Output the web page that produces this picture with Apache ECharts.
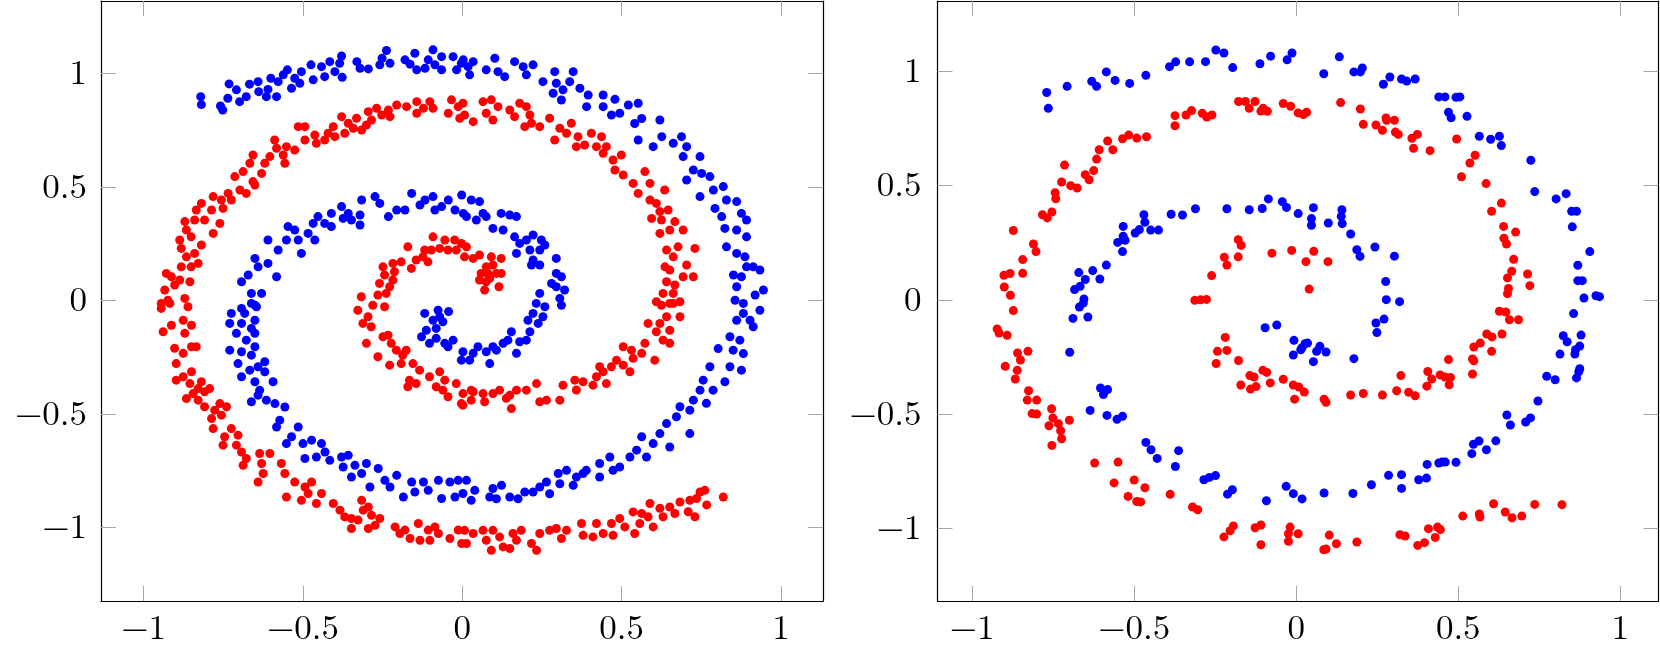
<!DOCTYPE html>
<html>
<head>
<meta charset="utf-8">
<script src="https://cdn.jsdelivr.net/npm/echarts@6.0.0/dist/echarts.min.js"></script>
<style>
  html, body { margin: 0; padding: 0; background: #fff; }
  #chart { width: 1660px; height: 653px; }
</style>
</head>
<body>
<div id="chart"></div>
<script>
// tick positions shared by both panels
const tickValues = [-1, -0.5, 0, 0.5, 1];

// left panel, blue class
const leftBlue = [
  [-0.821,0.897],[-0.819,0.862],[-0.752,0.838],[-0.759,0.856],[-0.736,0.890],[-0.732,0.953],[-0.709,0.927],[-0.699,0.875],
  [-0.678,0.897],[-0.668,0.952],[-0.641,0.963],[-0.639,0.919],[-0.615,0.897],[-0.610,0.929],[-0.601,0.978],[-0.583,0.897],
  [-0.578,0.963],[-0.562,0.993],[-0.549,1.015],[-0.536,0.934],[-0.526,0.978],[-0.505,1.007],[-0.510,0.956],[-0.475,1.037],
  [-0.468,0.971],[-0.442,1.029],[-0.432,0.985],[-0.416,1.051],[-0.400,1.007],[-0.379,1.076],[-0.377,0.982],[-0.385,1.044],
  [-0.331,1.051],[-0.321,1.022],[-0.295,1.019],[-0.259,1.037],[-0.252,1.066],[-0.238,1.100],[-0.227,1.044],[-0.180,1.059],
  [-0.164,1.040],[-0.149,1.088],[-0.143,1.015],[-0.117,1.022],[-0.107,1.059],[-0.092,1.103],[-0.086,1.037],[-0.065,1.073],
  [-0.065,1.015],[-0.029,1.073],[-0.018,1.015],[-0.003,1.044],
  [0.003,1.059],[0.018,1.029],[0.023,0.993],[0.034,1.051],[0.075,1.015],[0.102,1.066],[0.112,1.007],[0.133,0.985],
  [0.164,1.051],[0.191,1.029],[0.201,0.993],[0.222,1.037],[0.253,0.963],[0.290,1.007],[0.295,0.956],[0.285,0.912],
  [0.316,0.927],[0.311,0.882],[0.348,1.007],[0.337,0.963],[0.369,0.934],[0.395,0.904],[0.390,0.853],[0.442,0.904],
  [0.442,0.853],[0.479,0.885],[0.468,0.816],[0.494,0.824],[0.521,0.860],[0.552,0.868],[0.541,0.779],[0.563,0.801],
  [0.552,0.706],[0.599,0.677],[0.620,0.794],[0.626,0.721],[0.662,0.692],[0.688,0.721],[0.704,0.677],[0.693,0.633],
  [0.746,0.633],[0.704,0.530],[0.725,0.574],[0.751,0.559],[0.777,0.545],[0.746,0.457],[0.788,0.486],[0.819,0.501],
  [0.829,0.442],[0.793,0.405],[0.861,0.435],[0.814,0.369],[0.876,0.383],[0.892,0.354],[0.824,0.317],[0.861,0.310],
  [0.829,0.236],[0.892,0.280],[0.861,0.207],[0.887,0.192],[0.892,0.148],[0.913,0.148],[0.851,0.112],[0.876,0.104],
  [0.861,0.060],[0.934,0.134],[0.919,0.024],[0.945,0.046],[0.856,0.001],[0.882,-0.013],
  [0.934,-0.043],[0.913,-0.116],[0.882,-0.057],[0.861,-0.087],[0.903,-0.087],[0.840,-0.160],[0.871,-0.175],
  [0.850,-0.219],[0.882,-0.234],[0.803,-0.212],[0.876,-0.307],[0.840,-0.292],[0.777,-0.292],[0.824,-0.358],[0.787,-0.395],
  [0.756,-0.351],[0.746,-0.395],[0.725,-0.439],[0.766,-0.453],[0.683,-0.468],[0.714,-0.483],[0.672,-0.512],[0.641,-0.542],
  [0.714,-0.586],[0.651,-0.645],[0.620,-0.586],[0.599,-0.630],[0.563,-0.600],[0.547,-0.659],[0.526,-0.689],[0.578,-0.689],
  [0.494,-0.733],[0.463,-0.689],[0.431,-0.718],[0.431,-0.777],[0.473,-0.748],[0.389,-0.748],[0.358,-0.777],[0.327,-0.748],
  [0.301,-0.762],[0.306,-0.807],[0.348,-0.814],[0.379,-0.762],[0.264,-0.799],[0.243,-0.821],[0.274,-0.851],[0.222,-0.843],
  [0.196,-0.843],[0.175,-0.873],[0.149,-0.865],[0.123,-0.814],[0.096,-0.828],[0.107,-0.873],[0.086,-0.865],[0.039,-0.836],
  [0.028,-0.880],[0.013,-0.792],[0.002,-0.850],
  [-0.013,-0.792],[-0.023,-0.865],[-0.039,-0.799],[-0.075,-0.792],[-0.065,-0.872],[-0.107,-0.836],[-0.122,-0.799],
  [-0.149,-0.843],[-0.159,-0.799],[-0.185,-0.865],[-0.206,-0.770],[-0.227,-0.821],[-0.243,-0.792],[-0.264,-0.740],
  [-0.290,-0.821],[-0.301,-0.718],[-0.316,-0.762],[-0.337,-0.726],[-0.348,-0.777],[-0.374,-0.733],[-0.379,-0.689],
  [-0.358,-0.682],[-0.416,-0.704],[-0.431,-0.667],[-0.442,-0.630],[-0.458,-0.689],[-0.473,-0.615],[-0.500,-0.630],
  [-0.494,-0.696],[-0.515,-0.557],[-0.536,-0.600],[-0.552,-0.630],[-0.583,-0.557],[-0.573,-0.527],[-0.588,-0.454],
  [-0.557,-0.469],[-0.615,-0.439],[-0.641,-0.417],[-0.662,-0.446],[-0.636,-0.395],[-0.651,-0.358],[-0.594,-0.358],
  [-0.620,-0.314],[-0.641,-0.292],[-0.693,-0.336],[-0.667,-0.307],[-0.620,-0.270],[-0.704,-0.278],[-0.662,-0.241],
  [-0.693,-0.226],[-0.730,-0.219],[-0.651,-0.204],[-0.678,-0.175],[-0.709,-0.145],[-0.651,-0.145],[-0.730,-0.101],
  [-0.693,-0.101],[-0.662,-0.123],[-0.725,-0.057],[-0.683,-0.057],[-0.651,-0.087],[-0.646,-0.028],[-0.662,-0.013],
  [-0.693,-0.035],[-0.651,-0.021],[-0.662,0.031],[-0.630,0.031],[-0.693,0.082],[-0.672,0.112],[-0.641,0.148],
  [-0.651,0.185],[-0.610,0.163],[-0.583,0.104],[-0.610,0.266],[-0.578,0.222],[-0.547,0.325],[-0.552,0.266],
  [-0.526,0.310],[-0.505,0.207],[-0.515,0.266],[-0.484,0.295],[-0.468,0.339],[-0.453,0.369],[-0.463,0.266],
  [-0.432,0.339],[-0.411,0.325],[-0.411,0.383],[-0.379,0.413],[-0.358,0.383],[-0.374,0.361],[-0.348,0.354],
  [-0.321,0.332],[-0.316,0.442],[-0.321,0.376],[-0.274,0.457],[-0.259,0.427],[-0.232,0.369],[-0.206,0.398],
  [-0.180,0.398],[-0.159,0.471],[-0.133,0.420],[-0.117,0.442],[-0.092,0.457],[-0.086,0.398],[-0.065,0.413],
  [-0.044,0.442],[-0.023,0.398],[-0.002,0.464],[0.003,0.383],
  [0.028,0.442],[0.054,0.435],[0.013,0.369],[0.044,0.354],[0.065,0.383],[0.075,0.369],[0.096,0.317],[0.122,0.383],
  [0.149,0.376],[0.170,0.369],[0.128,0.310],[0.164,0.280],[0.180,0.251],[0.170,0.207],[0.201,0.266],[0.222,0.288],
  [0.212,0.222],[0.248,0.266],[0.259,0.244],[0.243,0.222],[0.222,0.178],[0.243,0.156],[0.217,0.156],[0.295,0.185],
  [0.295,0.119],[0.311,0.104],[0.280,0.075],[0.295,0.060],[0.321,0.046],[0.306,0.009],[0.311,-0.021],[0.243,0.031],
  [0.232,-0.013],[0.259,-0.028],[0.222,-0.057],[0.206,-0.087],[0.253,-0.072],[0.238,-0.101],[0.212,-0.138],
  [0.180,-0.182],[0.201,-0.175],[0.154,-0.138],[0.143,-0.175],[0.170,-0.233],[0.128,-0.189],[0.107,-0.219],
  [0.096,-0.204],[0.075,-0.226],[0.049,-0.204],[0.034,-0.233],[0.002,-0.226],[-0.003,-0.263],[0.023,-0.263],
  [0.086,-0.278],[-0.029,-0.175],[-0.045,-0.204],[-0.055,-0.189],[-0.082,-0.167],[-0.103,-0.189],[-0.128,-0.160],
  [-0.113,-0.131],[-0.082,-0.123],[-0.092,-0.087],[-0.061,-0.094],[-0.118,-0.057],[-0.076,-0.043],[-0.043,-0.049],
  [-0.071,-0.072]
];

// left panel, red class
const leftRed = [
  [-0.945,-0.013],[-0.924,0.001],[-0.934,0.046],[-0.903,0.068],[-0.913,0.104],[-0.887,0.090],[-0.855,0.082],
  [-0.871,0.009],[-0.929,0.119],[-0.882,0.148],[-0.851,0.148],[-0.829,0.163],[-0.866,0.192],[-0.882,0.229],
  [-0.840,0.207],[-0.887,0.266],[-0.866,0.310],[-0.851,0.280],[-0.819,0.244],[-0.871,0.347],[-0.840,0.354],
  [-0.835,0.398],[-0.809,0.354],[-0.819,0.427],[-0.787,0.398],[-0.782,0.457],[-0.761,0.339],[-0.756,0.442],
  [-0.751,0.405],[-0.782,0.295],[-0.735,0.471],[-0.725,0.442],[-0.714,0.545],[-0.698,0.486],[-0.688,0.567],
  [-0.678,0.471],[-0.667,0.604],[-0.657,0.640],[-0.657,0.523],[-0.651,0.508],[-0.630,0.559],[-0.620,0.604],
  [-0.604,0.633],[-0.583,0.670],[-0.589,0.706],[-0.557,0.604],[-0.562,0.640],[-0.552,0.677],[-0.526,0.662],
  [-0.515,0.765],[-0.494,0.765],[-0.494,0.706],[-0.463,0.728],[-0.458,0.692],[-0.432,0.706],[-0.421,0.736],
  [-0.400,0.721],[-0.405,0.765],[-0.379,0.809],[-0.369,0.736],[-0.358,0.780],[-0.342,0.758],[-0.332,0.802],
  [-0.316,0.750],[-0.301,0.772],[-0.295,0.831],[-0.285,0.794],[-0.269,0.846],[-0.253,0.816],[-0.232,0.838],
  [-0.227,0.809],[-0.206,0.860],[-0.175,0.853],[-0.143,0.875],[-0.143,0.824],[-0.122,0.846],[-0.102,0.875],
  [-0.092,0.846],[-0.034,0.883],[-0.044,0.824],[-0.013,0.853],[-0.008,0.802],
  [0.002,0.868],[0.007,0.816],[0.034,0.787],[0.065,0.875],[0.091,0.883],[0.075,0.824],[0.096,0.794],[0.112,0.853],
  [0.149,0.838],[0.180,0.868],[0.164,0.809],[0.201,0.853],[0.212,0.816],[0.196,0.765],[0.217,0.780],[0.243,0.765],
  [0.274,0.802],[0.290,0.706],[0.306,0.758],[0.327,0.736],[0.342,0.780],[0.358,0.677],[0.363,0.721],[0.384,0.684],
  [0.405,0.736],[0.421,0.677],[0.437,0.721],[0.442,0.648],[0.452,0.677],[0.473,0.618],[0.499,0.640],[0.479,0.574],
  [0.505,0.552],[0.536,0.515],[0.573,0.567],[0.552,0.471],[0.589,0.515],[0.589,0.442],[0.609,0.427],[0.635,0.486],
  [0.620,0.391],[0.646,0.398],[0.594,0.361],[0.625,0.354],[0.667,0.347],[0.620,0.295],[0.651,0.310],[0.693,0.310],
  [0.641,0.222],[0.677,0.236],[0.730,0.229],[0.662,0.192],[0.704,0.156],[0.636,0.148],[0.651,0.134],[0.693,0.104],
  [0.725,0.104],[0.641,0.082],[0.667,0.068],[0.630,0.031],[0.662,0.031],[0.609,-0.006],[0.651,-0.013],[0.683,-0.006],
  [0.625,-0.021],[0.662,-0.013],[0.683,-0.072],[0.641,-0.072],[0.583,-0.101],[0.620,-0.101],[0.651,-0.131],
  [0.609,-0.138],[0.630,-0.175],[0.651,-0.189],[0.604,-0.263],[0.573,-0.189],[0.563,-0.233],[0.505,-0.204],
  [0.531,-0.219],[0.536,-0.255],[0.484,-0.263],[0.505,-0.285],[0.526,-0.314],[0.468,-0.292],[0.431,-0.292],
  [0.442,-0.314],[0.421,-0.336],[0.452,-0.366],[0.410,-0.373],[0.379,-0.358],[0.353,-0.351],[0.358,-0.394],
  [0.316,-0.373],[0.306,-0.439],[0.264,-0.439],[0.243,-0.446],[0.233,-0.366],[0.201,-0.395],[0.170,-0.395],
  [0.149,-0.417],[0.154,-0.476],[0.138,-0.431],[0.117,-0.395],[0.096,-0.410],[0.070,-0.446],[0.065,-0.410],
  [0.034,-0.402],[0.028,-0.439],[0.002,-0.410],[0.002,-0.461],
  [-0.019,-0.366],[-0.055,-0.351],[-0.061,-0.395],[-0.045,-0.424],[-0.003,-0.454],[0.028,-0.395],[-0.082,-0.380],
  [-0.071,-0.314],[-0.103,-0.336],[-0.134,-0.307],[-0.145,-0.366],[-0.166,-0.351],[-0.171,-0.380],[-0.155,-0.278],
  [-0.192,-0.278],[-0.187,-0.241],[-0.207,-0.219],[-0.176,-0.219],[-0.223,-0.189],[-0.249,-0.160],[-0.233,-0.153],
  [-0.265,-0.248],[-0.228,-0.285],[-0.301,-0.189],[-0.312,-0.101],[-0.296,-0.072],[-0.286,-0.116],[-0.328,-0.043],
  [-0.317,0.016],[-0.281,-0.021],[-0.244,-0.028],[-0.265,0.024],[-0.239,0.031],[-0.260,0.075],[-0.228,0.060],
  [-0.218,0.090],[-0.244,0.112],[-0.249,0.148],[-0.213,0.126],[-0.218,0.163],[-0.192,0.170],[-0.160,0.141],
  [-0.145,0.178],[-0.171,0.236],[-0.118,0.222],[-0.124,0.192],[-0.108,0.170],[-0.092,0.280],[-0.097,0.222],
  [-0.071,0.229],[-0.055,0.266],[-0.045,0.222],[-0.024,0.266],[-0.019,0.222],[-0.003,0.251],[0.007,0.192],
  [0.013,0.236],[0.034,0.185],[0.054,0.200],[0.091,0.192],[0.122,0.185],[0.096,0.156],[0.075,0.148],[0.107,0.119],
  [0.080,0.119],[0.059,0.119],[0.054,0.090],[0.086,0.097],[0.070,0.046],[0.115,0.060],[0.122,0.119],[0.075,0.082],
  [-0.945,-0.035],[-0.918,-0.013],[-0.861,-0.028],[-0.939,-0.138],[-0.913,-0.109],[-0.876,-0.087],[-0.871,-0.145],
  [-0.850,-0.109],[-0.903,-0.211],[-0.876,-0.233],[-0.850,-0.204],[-0.835,-0.204],[-0.898,-0.278],[-0.898,-0.351],
  [-0.876,-0.336],[-0.850,-0.314],[-0.855,-0.366],[-0.819,-0.358],[-0.829,-0.388],[-0.866,-0.432],[-0.845,-0.410],
  [-0.829,-0.439],[-0.809,-0.402],[-0.793,-0.388],[-0.809,-0.468],[-0.777,-0.483],[-0.761,-0.454],[-0.740,-0.468],
  [-0.787,-0.520],[-0.756,-0.505],[-0.782,-0.564],[-0.725,-0.564],[-0.746,-0.600],[-0.751,-0.637],[-0.704,-0.593],
  [-0.709,-0.637],[-0.693,-0.667],[-0.678,-0.696],[-0.688,-0.726],[-0.636,-0.674],[-0.604,-0.674],[-0.630,-0.718],
  [-0.625,-0.762],[-0.641,-0.799],[-0.568,-0.718],[-0.557,-0.762],[-0.552,-0.865],[-0.526,-0.799],[-0.505,-0.880],
  [-0.494,-0.821],[-0.473,-0.799],[-0.484,-0.850],[-0.442,-0.850],[-0.458,-0.894],[-0.405,-0.894],[-0.384,-0.923],
  [-0.369,-0.953],[-0.348,-1.004],[-0.348,-0.960],[-0.316,-0.880],[-0.311,-0.923],[-0.327,-0.967],[-0.295,-0.909],
  [-0.285,-0.946],[-0.295,-1.004],[-0.259,-0.960],[-0.274,-0.990],[-0.211,-0.997],[-0.196,-1.026],[-0.180,-1.011],
  [-0.164,-1.048],[-0.138,-0.982],[-0.133,-1.056],[-0.107,-1.011],[-0.086,-0.997],[-0.102,-1.056],[-0.075,-1.026],
  [-0.039,-1.048],[-0.013,-1.011],[-0.002,-1.070],
  [0.007,-1.012],[0.013,-1.070],[0.034,-1.026],[0.065,-1.012],[0.075,-1.056],[0.091,-1.100],[0.096,-1.012],
  [0.117,-1.041],[0.128,-1.085],[0.149,-1.092],[0.159,-1.026],[0.185,-1.012],[0.170,-1.056],[0.217,-1.070],
  [0.233,-1.100],[0.243,-1.026],[0.274,-1.012],[0.295,-1.004],[0.327,-1.012],[0.311,-1.048],[0.374,-0.982],
  [0.379,-1.034],[0.410,-1.041],[0.421,-0.982],[0.442,-1.026],[0.473,-1.034],[0.468,-0.982],[0.494,-0.960],
  [0.510,-0.997],[0.536,-0.931],[0.541,-1.026],[0.557,-0.982],[0.563,-0.938],[0.589,-0.894],[0.583,-0.952],
  [0.599,-0.997],[0.620,-0.915],[0.630,-0.952],[0.651,-0.909],[0.667,-0.938],[0.683,-0.887],[0.709,-0.930],
  [0.714,-0.880],[0.735,-0.872],[0.730,-0.952],[0.761,-0.836],[0.767,-0.900],[0.746,-0.843],[0.819,-0.865]
];

// right panel, blue class
const rightBlue = [
  [-0.770,0.906],[-0.765,0.837],[-0.707,0.933],[-0.631,0.955],[-0.616,0.933],[-0.586,0.996],[-0.559,0.959],
  [-0.514,0.946],[-0.464,0.981],[-0.391,1.019],[-0.372,1.040],[-0.329,1.040],[-0.280,1.041],[-0.248,1.092],
  [-0.223,1.079],[-0.196,1.015],[-0.112,1.032],[-0.079,1.065],[-0.028,1.049],[-0.013,1.079],
  [0.133,1.062],[0.085,0.988],[0.178,0.996],[0.204,1.013],[0.198,0.996],[0.269,0.942],[0.289,0.974],[0.325,0.965],
  [0.341,0.956],[0.367,0.965],[0.440,0.887],[0.459,0.887],[0.493,0.885],[0.505,0.887],[0.470,0.820],[0.478,0.796],
  [0.527,0.802],[0.565,0.715],[0.600,0.702],[0.627,0.715],[0.633,0.674],[0.724,0.610],[0.736,0.473],[0.802,0.441],
  [0.833,0.464],[0.850,0.387],[0.865,0.387],[0.852,0.319],[0.906,0.211],[0.869,0.151],[0.869,0.084],[0.883,0.084],
  [0.888,0.008],[0.925,0.018],[0.936,0.014],
  [-0.470,0.372],[-0.467,0.339],[-0.484,0.307],[-0.497,0.292],[-0.449,0.305],[-0.425,0.305],[-0.386,0.374],
  [-0.351,0.371],[-0.311,0.398],[-0.214,0.398],[-0.145,0.394],[-0.105,0.399],[-0.086,0.441],[-0.043,0.429],
  [-0.030,0.404],[0.006,0.377],[0.053,0.403],[0.047,0.355],[0.047,0.326],[0.099,0.336],[0.141,0.394],[0.139,0.365],
  [0.142,0.333],[0.168,0.288],[0.187,0.219],[0.197,0.190],[0.243,0.231],[0.303,0.191],[0.276,0.080],[0.278,0.001],
  [0.319,-0.008],[0.271,-0.084],[0.246,-0.101],[0.249,-0.143],[0.178,-0.257],[0.092,-0.228],[0.073,-0.203],
  [0.063,-0.225],[0.053,-0.270],[0.035,-0.189],[0.027,-0.192],[0.018,-0.209],[0.014,-0.218],[-0.007,-0.177],
  [-0.009,-0.241],[-0.060,-0.110],[-0.096,-0.122],
  [0.856,-0.060],[0.824,-0.157],[0.836,-0.183],[0.879,-0.154],[0.875,-0.202],[0.862,-0.218],[0.860,-0.237],
  [0.814,-0.237],[0.875,-0.301],[0.872,-0.314],[0.865,-0.341],[0.773,-0.334],[0.799,-0.349],[0.746,-0.442],
  [0.650,-0.503],[0.661,-0.547],[0.708,-0.534],[0.723,-0.516],[0.616,-0.616],[0.587,-0.655],[0.564,-0.617],
  [0.547,-0.631],[0.542,-0.672],[0.493,-0.710],[0.460,-0.709],[0.450,-0.709],[0.440,-0.713],[0.404,-0.719],
  [0.402,-0.779],[0.378,-0.786],[0.325,-0.764],[0.325,-0.824],[0.285,-0.767],[0.232,-0.808],[0.175,-0.846],
  [0.086,-0.844],[0.018,-0.870],
  [-0.657,-0.014],[-0.669,-0.031],[-0.689,-0.081],[-0.643,-0.075],[-0.699,-0.229],[-0.604,-0.385],[-0.582,-0.392],
  [-0.595,-0.414],[-0.636,-0.483],[-0.584,-0.505],[-0.553,-0.522],[-0.536,-0.509],[-0.464,-0.623],[-0.448,-0.655],
  [-0.429,-0.693],[-0.363,-0.659],[-0.373,-0.728],[-0.285,-0.786],[-0.268,-0.776],[-0.249,-0.768],[-0.212,-0.849],
  [-0.197,-0.830],[-0.092,-0.878],[-0.031,-0.815],[-0.009,-0.847],
  [-0.534,0.321],[-0.534,0.278],[-0.528,0.260],[-0.551,0.251],[-0.536,0.211],[-0.586,0.152],[-0.628,0.128],
  [-0.606,0.091],[-0.671,0.119],[-0.651,0.089],[-0.667,0.059],[-0.684,0.045],[-0.655,0.004]
];

// right panel, red class
const rightRed = [
  [-0.179,0.263],[-0.170,0.238],[-0.222,0.186],[-0.214,0.152],[-0.179,0.188],[-0.261,0.106],[-0.313,-0.002],
  [-0.295,0.000],[-0.277,0.002],[-0.075,0.204],[-0.014,0.216],[0.054,0.212],[0.030,0.167],[0.098,0.167],[0.040,0.047],
  [-0.219,-0.164],[-0.243,-0.225],[-0.214,-0.221],[-0.178,-0.265],[-0.247,-0.278],[-0.143,-0.331],[-0.130,-0.337],
  [-0.103,-0.308],[-0.091,-0.317],[-0.080,-0.363],[-0.171,-0.372],[-0.141,-0.390],[-0.124,-0.379],[-0.040,-0.347],
  [-0.009,-0.372],[0.008,-0.381],[0.025,-0.403],[-0.005,-0.434],[0.086,-0.434],[0.092,-0.448],[0.168,-0.416],
  [0.207,-0.409],[0.266,-0.416],[0.310,-0.397],[0.323,-0.331],[0.347,-0.404],[0.367,-0.419],[0.403,-0.377],
  [0.406,-0.313],[0.418,-0.346],[0.444,-0.328],[0.459,-0.337],[0.476,-0.339],[0.472,-0.371],[0.470,-0.261],
  [0.544,-0.324],[0.544,-0.258],[0.548,-0.266],[0.548,-0.206],[0.568,-0.189],[0.588,-0.149],[0.604,-0.162],
  [0.603,-0.225],[0.635,-0.149],[0.627,-0.050],[0.647,-0.053],[0.658,-0.087],[0.686,-0.087],
  [0.085,-1.092],[0.092,-1.089],[0.102,-1.028],[0.124,-1.066],[0.187,-1.058],[0.320,-1.026],[0.336,-1.032],
  [0.375,-1.073],[0.396,-1.061],[0.408,-1.000],[0.429,-1.038],[0.436,-0.993],[0.445,-1.004],[0.514,-0.945],
  [0.565,-0.936],[0.567,-0.949],[0.609,-0.891],[0.645,-0.927],[0.666,-0.952],[0.696,-0.945],[0.736,-0.894],
  [0.820,-0.895],
  [-0.873,-0.047],[-0.923,-0.127],[-0.917,-0.145],[-0.892,-0.155],[-0.898,-0.290],[-0.860,-0.232],[-0.851,-0.263],
  [-0.828,-0.225],[-0.861,-0.308],[-0.867,-0.346],[-0.826,-0.397],[-0.830,-0.438],[-0.801,-0.438],[-0.815,-0.497],
  [-0.801,-0.499],[-0.755,-0.476],[-0.751,-0.516],[-0.734,-0.541],[-0.763,-0.550],[-0.727,-0.572],[-0.724,-0.607],
  [-0.754,-0.636],[-0.700,-0.526],[-0.622,-0.713],[-0.550,-0.709],[-0.562,-0.800],[-0.500,-0.787],[-0.467,-0.821],
  [-0.519,-0.859],[-0.492,-0.881],[-0.480,-0.883],[-0.389,-0.850],[-0.320,-0.905],[-0.304,-0.917],[-0.223,-1.036],
  [-0.204,-1.009],[-0.194,-0.988],[-0.127,-0.996],[-0.109,-0.984],[-0.109,-1.070],[-0.019,-0.993],[-0.024,-1.022],
  [-0.024,-1.055],[0.006,-1.022],
  [-0.873,0.303],[-0.902,0.107],[-0.883,0.115],[-0.844,0.176],[-0.844,0.116],[-0.901,0.056],[-0.882,0.020],
  [-0.811,0.244],[-0.803,0.211],[-0.783,0.372],[-0.768,0.358],[-0.754,0.384],[-0.744,0.468],[-0.742,0.442],
  [-0.724,0.515],[-0.715,0.589],[-0.696,0.499],[-0.676,0.489],[-0.651,0.547],[-0.639,0.525],[-0.625,0.565],
  [-0.616,0.615],[-0.608,0.656],[-0.582,0.694],[-0.566,0.656],[-0.536,0.704],[-0.517,0.720],[-0.492,0.707],
  [-0.462,0.713],[-0.374,0.761],[-0.374,0.805],[-0.340,0.808],[-0.323,0.827],[-0.290,0.815],[-0.276,0.799],
  [-0.260,0.808],[-0.178,0.867],[-0.157,0.867],[-0.145,0.837],[-0.127,0.867],[-0.109,0.825],[-0.102,0.837],
  [-0.089,0.824],[-0.040,0.858],[-0.017,0.846],[0.006,0.817],
  [0.022,0.810],[0.032,0.820],[0.137,0.862],[0.198,0.834],[0.207,0.767],[0.246,0.764],[0.266,0.741],[0.277,0.795],
  [0.279,0.785],[0.303,0.785],[0.306,0.733],[0.315,0.723],[0.357,0.706],[0.374,0.723],[0.362,0.662],[0.413,0.652],
  [0.495,0.703],[0.552,0.632],[0.536,0.598],[0.510,0.538],[0.586,0.508],[0.633,0.423],[0.603,0.387],[0.640,0.321],
  [0.677,0.296],[0.641,0.269],[0.649,0.244],[0.671,0.177],[0.665,0.125],[0.652,0.096],[0.714,0.113],[0.721,0.062],
  [0.655,0.050],[0.652,0.027]
];

const labelFont = {
  fontFamily: "'Latin Modern Roman', 'CMU Serif', 'Liberation Serif', serif",
  fontSize: 35,
  color: '#000'
};
const fmt = (v) => String(v).replace('-', '\u2212');

function xAxes(gridIndex, min, max) {
  const base = {
    gridIndex: gridIndex, type: 'value', min: min, max: max,
    splitLine: { show: false },
    axisLine: { show: true, onZero: false, lineStyle: { color: '#000', width: 1.2 } },
    axisTick: { show: true, inside: true, length: 15, customValues: tickValues,
                lineStyle: { color: '#a6a6a6', width: 1 } }
  };
  return [
    Object.assign({}, base, { position: 'bottom',
      axisLabel: Object.assign({ show: true, margin: 10, customValues: tickValues, formatter: fmt }, labelFont) }),
    Object.assign({}, base, { position: 'top', axisLabel: { show: false } })
  ];
}

function yAxes(gridIndex, min, max, margin) {
  const base = {
    gridIndex: gridIndex, type: 'value', min: min, max: max,
    splitLine: { show: false },
    axisLine: { show: true, onZero: false, lineStyle: { color: '#000', width: 1.2 } },
    axisTick: { show: true, inside: true, length: 15, customValues: tickValues,
                lineStyle: { color: '#a6a6a6', width: 1 } }
  };
  return [
    Object.assign({}, base, { position: 'left',
      axisLabel: Object.assign({ show: true, margin: margin, customValues: tickValues, formatter: fmt }, labelFont) }),
    Object.assign({}, base, { position: 'right', axisLabel: { show: false } })
  ];
}

const chart = echarts.init(document.getElementById('chart'));
chart.setOption({
  animation: false,
  backgroundColor: '#fff',
  grid: [
    { left: 101, top: 1, width: 722, height: 600 },
    { left: 937.5, top: 1, width: 721, height: 600 }
  ],
  xAxis: [].concat(xAxes(0, -1.134, 1.132), xAxes(1, -1.107, 1.118)),
  yAxis: [].concat(yAxes(0, -1.323, 1.318, 14), yAxes(1, -1.316, 1.306, 16)),
  series: [
    { type: 'scatter', xAxisIndex: 0, yAxisIndex: 0, data: leftBlue, symbolSize: 9,
      itemStyle: { color: '#0000ff', opacity: 1 } },
    { type: 'scatter', xAxisIndex: 0, yAxisIndex: 0, data: leftRed, symbolSize: 9,
      itemStyle: { color: '#ff0000', opacity: 1 } },
    { type: 'scatter', xAxisIndex: 2, yAxisIndex: 2, data: rightBlue, symbolSize: 9,
      itemStyle: { color: '#0000ff', opacity: 1 } },
    { type: 'scatter', xAxisIndex: 2, yAxisIndex: 2, data: rightRed, symbolSize: 9,
      itemStyle: { color: '#ff0000', opacity: 1 } }
  ]
});
</script>
</body>
</html>
